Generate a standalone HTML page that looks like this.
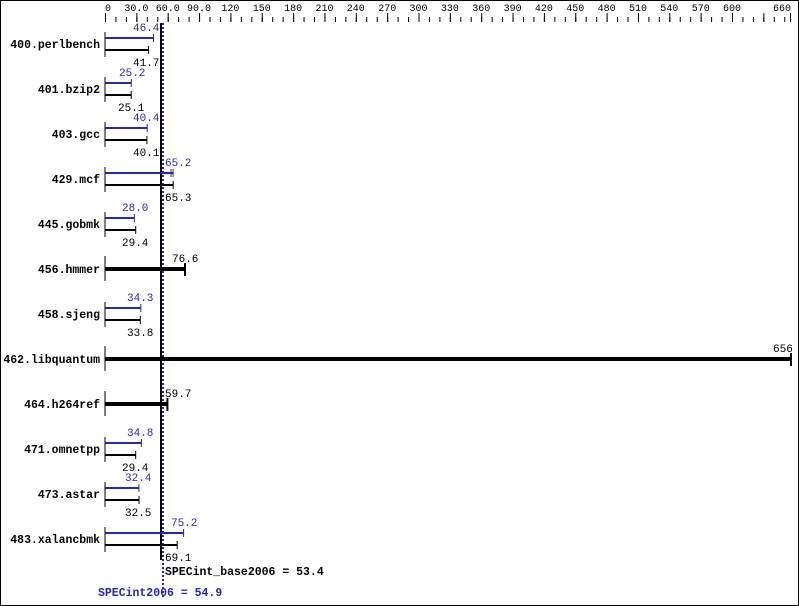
<!DOCTYPE html>
<html><head><meta charset="utf-8"><style>
html,body{margin:0;padding:0;background:#fff}
svg{display:block}
text{font-family:"Liberation Mono","DejaVu Sans Mono",monospace}
.t{font-size:11px;fill:#000}
.b{font-size:11px;fill:#2828a8}
.l{font-size:11.5px;font-weight:bold;fill:#000;text-anchor:end}
</style></head><body>
<svg width="799" height="606" viewBox="0 0 799 606" xmlns="http://www.w3.org/2000/svg">
<defs>
<pattern id="mn" x="105" y="0" width="10.45" height="606" patternUnits="userSpaceOnUse"><rect x="0" y="17" width="1" height="5" fill="#000"/></pattern>
<pattern id="mj" x="105" y="0" width="31.35" height="606" patternUnits="userSpaceOnUse"><rect x="0" y="13" width="1" height="9" fill="#000"/></pattern>
</defs>
<rect x="0.5" y="0.5" width="798" height="605" fill="#fff" stroke="#000"/>
<rect x="105" y="0" width="686" height="23" fill="url(#mn)"/>
<rect x="105" y="0" width="686" height="23" fill="url(#mj)"/>
<rect x="790" y="13" width="1" height="9" fill="#000"/>
<g class="t" text-anchor="middle" style="font-size:10px">
<text x="108" y="11">0</text><text x="136.4" y="11">30.0</text><text x="167.7" y="11">60.0</text><text x="199" y="11">90.0</text>
<text x="230.4" y="11">120</text><text x="261.8" y="11">150</text><text x="293.1" y="11">180</text><text x="324.5" y="11">210</text>
<text x="355.8" y="11">240</text><text x="387.2" y="11">270</text><text x="418.5" y="11">300</text><text x="449.9" y="11">330</text>
<text x="481.2" y="11">360</text><text x="512.6" y="11">390</text><text x="543.9" y="11">420</text><text x="575.3" y="11">450</text>
<text x="606.6" y="11">480</text><text x="638" y="11">510</text><text x="669.3" y="11">540</text><text x="700.7" y="11">570</text>
<text x="732" y="11">600</text><text x="782" y="11">660</text>
</g>
<rect x="160" y="23" width="2" height="537" fill="#000"/>
<line x1="163" y1="23" x2="163" y2="598" stroke="#2828a8" stroke-width="2" stroke-dasharray="2,2"/>

<g stroke-linecap="butt">
<line x1="105" y1="32" x2="105" y2="57" stroke="#000"/>
<line x1="105" y1="38" x2="153.5" y2="38" stroke="#2828a8" stroke-width="2"/><line x1="153.5" y1="34" x2="153.5" y2="42" stroke="#2828a8"/>
<line x1="105" y1="50" x2="148.6" y2="50" stroke="#000" stroke-width="2"/><line x1="148.6" y1="46" x2="148.6" y2="54" stroke="#000"/>
<line x1="105" y1="77" x2="105" y2="102" stroke="#000"/>
<line x1="105" y1="83" x2="131.3" y2="83" stroke="#2828a8" stroke-width="2"/><line x1="131.3" y1="79" x2="131.3" y2="87" stroke="#2828a8"/>
<line x1="105" y1="95" x2="131.2" y2="95" stroke="#000" stroke-width="2"/><line x1="131.2" y1="91" x2="131.2" y2="99" stroke="#000"/>
<line x1="105" y1="122" x2="105" y2="147" stroke="#000"/>
<line x1="105" y1="128" x2="147.2" y2="128" stroke="#2828a8" stroke-width="2"/><line x1="147.2" y1="124" x2="147.2" y2="132" stroke="#2828a8"/>
<line x1="105" y1="140" x2="146.9" y2="140" stroke="#000" stroke-width="2"/><line x1="146.9" y1="136" x2="146.9" y2="144" stroke="#000"/>
<line x1="105" y1="167" x2="105" y2="192" stroke="#000"/>
<line x1="105" y1="173" x2="173.1" y2="173" stroke="#2828a8" stroke-width="2"/><line x1="173.1" y1="169" x2="173.1" y2="177" stroke="#2828a8"/><line x1="171" y1="169" x2="171" y2="177" stroke="#2828a8"/>
<line x1="105" y1="185" x2="173.2" y2="185" stroke="#000" stroke-width="2"/><line x1="173.2" y1="181" x2="173.2" y2="189" stroke="#000"/>
<line x1="105" y1="212" x2="105" y2="237" stroke="#000"/>
<line x1="105" y1="218" x2="134.3" y2="218" stroke="#2828a8" stroke-width="2"/><line x1="134.3" y1="214" x2="134.3" y2="222" stroke="#2828a8"/>
<line x1="105" y1="230" x2="135.7" y2="230" stroke="#000" stroke-width="2"/><line x1="135.7" y1="226" x2="135.7" y2="234" stroke="#000"/>
<line x1="105" y1="256" x2="105" y2="281" stroke="#000"/>
<line x1="105" y1="269" x2="185" y2="269" stroke="#000" stroke-width="4"/><line x1="185" y1="263" x2="185" y2="276" stroke="#000" stroke-width="2"/>
<line x1="105" y1="302" x2="105" y2="327" stroke="#000"/>
<line x1="105" y1="308" x2="140.8" y2="308" stroke="#2828a8" stroke-width="2"/><line x1="140.8" y1="304" x2="140.8" y2="312" stroke="#2828a8"/>
<line x1="105" y1="320" x2="140.3" y2="320" stroke="#000" stroke-width="2"/><line x1="140.3" y1="316" x2="140.3" y2="324" stroke="#000"/>
<line x1="105" y1="346" x2="105" y2="371" stroke="#000"/>
<line x1="105" y1="359" x2="791" y2="359" stroke="#000" stroke-width="4"/><line x1="791" y1="353" x2="791" y2="366" stroke="#000" stroke-width="2"/>
<line x1="105" y1="391" x2="105" y2="416" stroke="#000"/>
<line x1="105" y1="404" x2="167.4" y2="404" stroke="#000" stroke-width="4"/><line x1="167.4" y1="398" x2="167.4" y2="411" stroke="#000" stroke-width="2"/>
<line x1="105" y1="437" x2="105" y2="462" stroke="#000"/>
<line x1="105" y1="443" x2="141.4" y2="443" stroke="#2828a8" stroke-width="2"/><line x1="141.4" y1="439" x2="141.4" y2="447" stroke="#2828a8"/>
<line x1="105" y1="455" x2="135.7" y2="455" stroke="#000" stroke-width="2"/><line x1="135.7" y1="451" x2="135.7" y2="459" stroke="#000"/>
<line x1="105" y1="482" x2="105" y2="507" stroke="#000"/>
<line x1="105" y1="488" x2="138.9" y2="488" stroke="#2828a8" stroke-width="2"/><line x1="138.9" y1="484" x2="138.9" y2="492" stroke="#2828a8"/>
<line x1="105" y1="500" x2="139" y2="500" stroke="#000" stroke-width="2"/><line x1="139" y1="496" x2="139" y2="504" stroke="#000"/>
<line x1="105" y1="527" x2="105" y2="552" stroke="#000"/>
<line x1="105" y1="533" x2="183.6" y2="533" stroke="#2828a8" stroke-width="2"/><line x1="183.6" y1="529" x2="183.6" y2="537" stroke="#2828a8"/>
<line x1="105" y1="545" x2="177.2" y2="545" stroke="#000" stroke-width="2"/><line x1="177.2" y1="541" x2="177.2" y2="549" stroke="#000"/>
</g>

<g class="l">
<text x="100" y="48">400.perlbench</text>
<text x="100" y="93">401.bzip2</text>
<text x="100" y="138">403.gcc</text>
<text x="100" y="183">429.mcf</text>
<text x="100" y="228">445.gobmk</text>
<text x="100" y="273">456.hmmer</text>
<text x="100" y="318">458.sjeng</text>
<text x="100" y="363">462.libquantum</text>
<text x="100" y="408">464.h264ref</text>
<text x="100" y="453">471.omnetpp</text>
<text x="100" y="498">473.astar</text>
<text x="100" y="543">483.xalancbmk</text>
</g>

<g>
<text class="b" x="133" y="31">46.4</text><text class="t" x="133" y="66">41.7</text>
<text class="b" x="119" y="76">25.2</text><text class="t" x="118" y="111">25.1</text>
<text class="b" x="133" y="121">40.4</text><text class="t" x="133" y="156">40.1</text>
<text class="b" x="165" y="166">65.2</text><text class="t" x="165" y="201">65.3</text>
<text class="b" x="122" y="211">28.0</text><text class="t" x="122" y="246">29.4</text>
<text class="t" x="172" y="262">76.6</text>
<text class="b" x="127" y="301">34.3</text><text class="t" x="127" y="336">33.8</text>
<text class="t" x="773" y="352">656</text>
<text class="t" x="165" y="397">59.7</text>
<text class="b" x="127" y="436">34.8</text><text class="t" x="122" y="471">29.4</text>
<text class="b" x="125" y="481">32.4</text><text class="t" x="125" y="516">32.5</text>
<text class="b" x="171" y="526">75.2</text><text class="t" x="165" y="561">69.1</text>
</g>
<text x="165" y="575" style="font-size:11.5px;font-weight:bold;fill:#000">SPECint_base2006 = 53.4</text>
<text x="98" y="596" style="font-size:11.5px;font-weight:bold;fill:#2828a8">SPECint2006 = 54.9</text>
</svg>
</body></html>
